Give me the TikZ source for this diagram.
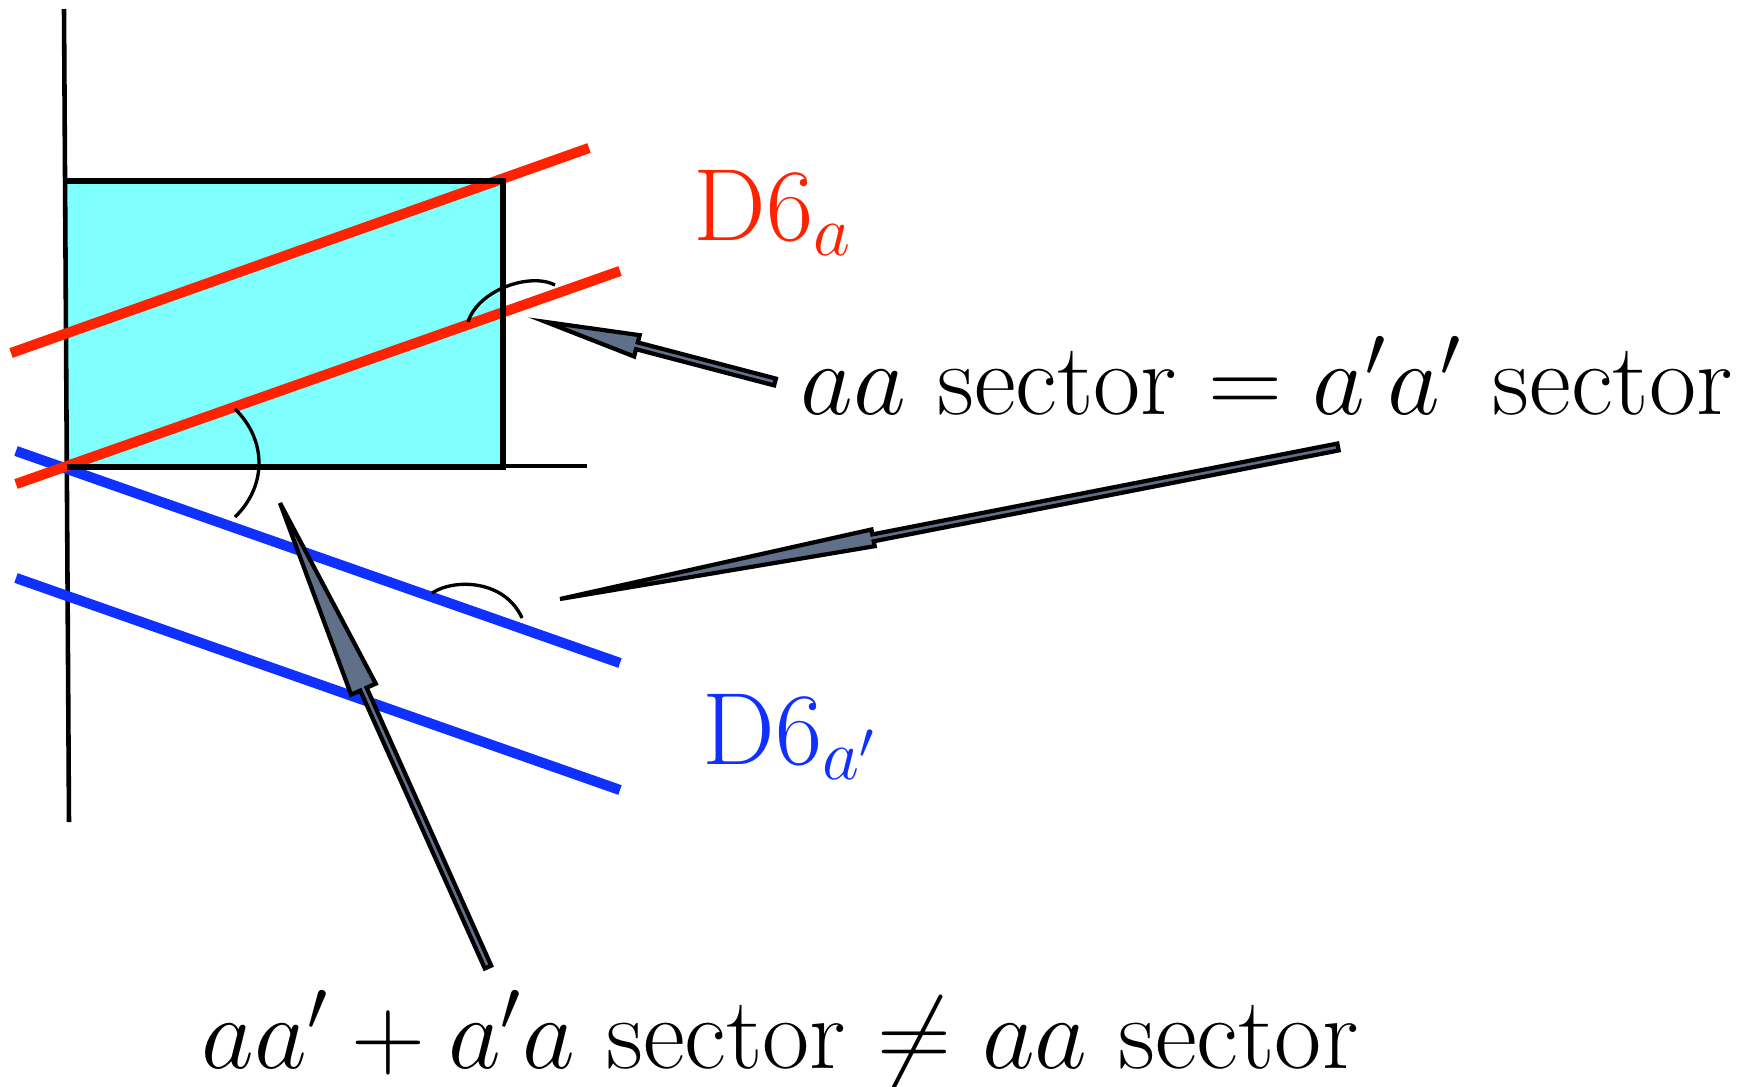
\RequirePackage{fix-cm}
\documentclass[tikz,border=0pt]{standalone}
\usepackage{amsmath,amssymb}
\usepackage{tikz}
\usetikzlibrary{calc}

\definecolor{braneRed}{RGB}{255,34,0}
\definecolor{braneBlue}{RGB}{16,48,255}
\definecolor{boxCyan}{RGB}{128,255,255}
\definecolor{arrowGray}{RGB}{96,112,136}

% #1 tail, #2 tip, #3 head length, #4 head half width, #5 shaft half width
\newcommand{\slimarrow}[5]{%
  \path ($(#2)!#3!(#1)$) coordinate (hb);
  \filldraw[arrowbody] ($(#1)!#5!90:(#2)$) -- ($(hb)!#5!90:(#2)$)
    -- ($(hb)!#4!90:(#2)$) -- (#2) -- ($(hb)!#4!-90:(#2)$)
    -- ($(hb)!#5!-90:(#2)$) -- ($(#1)!#5!-90:(#2)$) -- cycle;
}

\begin{document}
\begin{tikzpicture}[x=0.1mm,y=-0.1mm,
  redline/.style={braneRed,line width=2.9pt},
  blueline/.style={braneBlue,line width=2.9pt},
  anglearc/.style={line width=0.95pt},
  arrowbody/.style={fill=arrowGray,draw=black,line width=1.2pt,line join=miter},
  lbl/.style={anchor=base west,inner sep=0pt,font=\fontsize{29.2}{35}\selectfont}]
  \useasboundingbox (0,0) rectangle (1753,1087);
  % the box
  \fill[boxCyan] (67,181) rectangle (503,467);
  \draw[line width=1.3pt] (64,9) -- (69,822);
  \draw[line width=1.2pt] (503,466) -- (587,466);
  % branes
  \draw[blueline] (16,451) -- (620,663);
  \draw[blueline] (16,578) -- (620,790);
  \draw[redline] (11,353) -- (589,148);
  \draw[redline] (16,484) -- (620,271);
  \draw[line width=1.6pt] (67,181) -- (503,181) -- (503,467) -- (67,467);
  % angles
  \draw[anglearc] (468,322) .. controls (478,290) and (530,272) .. (555,285);
  \draw[anglearc] (235,409) .. controls (267,440) and (267,486) .. (235,517);
  \draw[anglearc] (432,593) .. controls (455,578) and (505,580) .. (522,618);
  % labels
  \node[lbl,text=braneRed] (Da) at (693,240) {D6$_a$};
  \node[lbl,text=braneBlue] (Dap) at (702,764) {D6$_{a'}$};
  \node[lbl] (same) at (800,414) {$aa$ sector $=$ $a'a'$ sector};
  \node[lbl] (diff) at (201,1068) {$aa'+a'a$ sector $\neq$ $aa$ sector};
  % arrows
  \coordinate (tailA) at (775,382);
  \coordinate (tipA) at (546,322);
  \coordinate (tailB) at (1338,447);
  \coordinate (tipB) at (560,599);
  \coordinate (tailC) at (488,967);
  \coordinate (tipC) at (280,503);
  \slimarrow{tailA}{tipA}{0.94cm}{0.11cm}{0.035cm}
  \slimarrow{tailB}{tipB}{3.19cm}{0.085cm}{0.035cm}
  \slimarrow{tailC}{tipC}{2.04cm}{0.135cm}{0.035cm}
\end{tikzpicture}
\end{document}
